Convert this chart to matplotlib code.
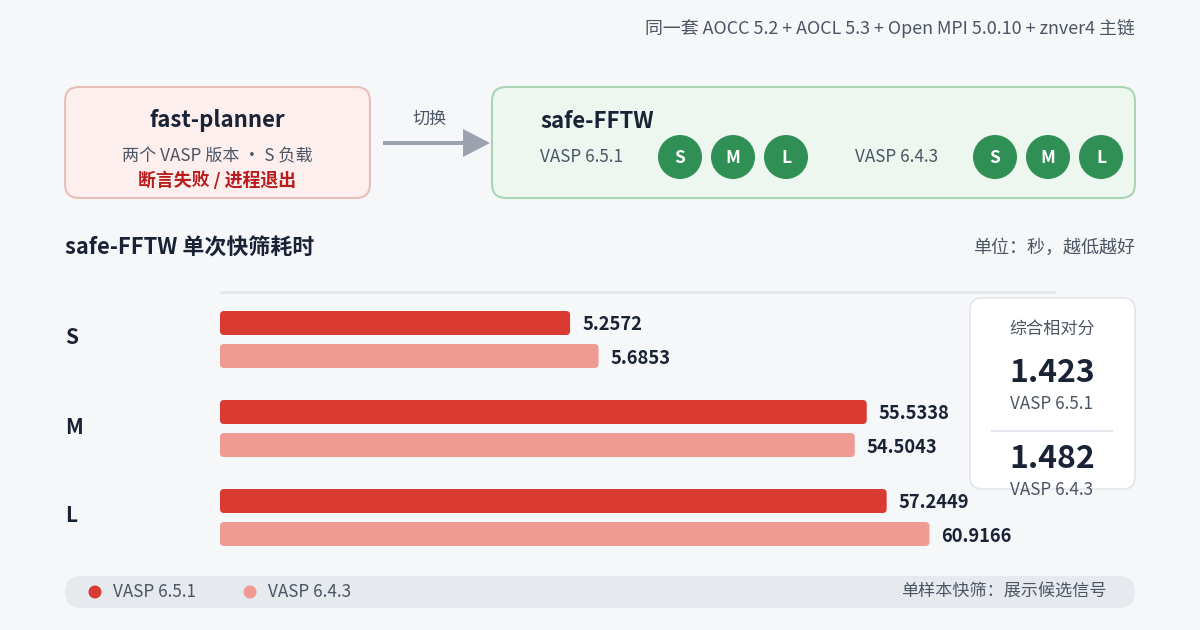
import numpy as np
import matplotlib
matplotlib.use("Agg")
import matplotlib.pyplot as plt
from matplotlib.patches import FancyBboxPatch, Circle, FancyArrow

plt.rcParams['font.family'] = ['Noto Sans CJK SC', 'DejaVu Sans']

# data
sizes = ["S", "M", "L"]
versions = ["VASP 6.5.1", "VASP 6.4.3"]
t_651 = [5.2572, 55.5338, 57.2449]
t_643 = [5.6853, 54.5043, 60.9166]
scores = [1.423, 1.482]
# the S row is drawn on its own (zoomed) scale, M and L share one
row_xmax = [12.54, 71.7, 71.7]

W, H = 1200, 630
BG = "#f6f7f9"
DARK = "#1a2236"
GRAY = "#4b5563"
RED = "#d93b32"
PINK = "#ef9a93"
GREEN = "#2f8f55"
FS = 12.3

fig = plt.figure(figsize=(12, 6.3), dpi=100, facecolor=BG)
bg = fig.add_axes([0, 0, 1, 1])
bg.set_xlim(0, W)
bg.set_ylim(H, 0)
bg.axis("off")
bg.set_facecolor(BG)


def rbox(x0, y0, x1, y1, r, fc, ec, lw=1.5, z=1):
    p = FancyBboxPatch((x0 + r, y0 + r), x1 - x0 - 2 * r, y1 - y0 - 2 * r,
                       boxstyle=f"round,pad={r}", fc=fc, ec=ec, lw=lw, zorder=z)
    bg.add_patch(p)


# header
bg.text(1135, 28, "同一套 AOCC 5.2 + AOCL 5.3 + Open MPI 5.0.10 + znver4 主链",
        ha="right", va="center", fontsize=12.9, color=GRAY)

# left box
rbox(65, 87, 370, 198, 14, "#fdefee", "#e8bfb8")
bg.text(217, 121, "fast-planner", ha="center", va="center", fontsize=16,
        fontweight="bold", color=DARK)
bg.text(217, 156, "两个 VASP 版本 · S 负载", ha="center", va="center",
        fontsize=FS, color=GRAY)
bg.text(217, 181, "断言失败 / 进程退出", ha="center", va="center",
        fontsize=12.9, fontweight="bold", color="#b91c1c")

# arrow
bg.text(430, 119, "切换", ha="center", va="center", fontsize=FS, color=GRAY)
bg.add_patch(FancyArrow(383, 143, 80, 0, width=4, head_width=28,
                        head_length=27, length_includes_head=False,
                        fc="#9ca3af", ec="none"))

# right box
rbox(492, 87, 1135, 198, 14, "#edf7ef", "#a9d5b5")
bg.text(540, 121, "safe-FFTW", ha="left", va="center", fontsize=16,
        fontweight="bold", color=DARK)
for vx, cx0, ver in [(540, 680, versions[0]), (855, 995, versions[1])]:
    bg.text(vx, 157, ver, ha="left", va="center", fontsize=FS, color=GRAY)
    for k, s in enumerate(sizes):
        cx = cx0 + 53 * k
        bg.add_patch(Circle((cx, 157), 22, fc=GREEN, ec="none", zorder=3))
        bg.text(cx, 158, s, ha="center", va="center", fontsize=12.5,
                fontweight="bold", color="white", zorder=4)

# section title
bg.text(65, 248, "safe-FFTW 单次快筛耗时", ha="left", va="center",
        fontsize=15.8, fontweight="bold", color=DARK)
bg.text(1135, 248, "单位：秒，越低越好", ha="right", va="center",
        fontsize=13, color=GRAY)
bg.plot([220, 1055], [292, 292], color="#e3e6ec", lw=2, solid_capstyle="butt")

# bars, one axes per size row
row_top = [311, 400, 489]
x_left, x_right = 220, 1055
ax_w = x_right - x_left
for i, s in enumerate(sizes):
    top = row_top[i]
    ax = fig.add_axes([x_left / W, 1 - (top + 57) / H, ax_w / W, 57 / H])
    ax.set_xlim(0, row_xmax[i])
    ax.set_ylim(1 + 0.3636, -0.3636)
    ax.axis("off")
    ax.patch.set_alpha(0)
    vals = [t_651[i], t_643[i]]
    bars = ax.barh([0, 1], vals, height=0.727, color=[RED, PINK])
    # swap the plain rectangles for rounded ones of the same extent
    r = 4 * row_xmax[i] / ax_w
    asp = ax_w / (33 * row_xmax[i])
    for b in bars:
        x0, y0, bw, bh = b.get_x(), b.get_y(), b.get_width(), b.get_height()
        ax.add_patch(FancyBboxPatch((x0, y0), bw, bh,
                                    boxstyle=f"round,pad=0,rounding_size={r}",
                                    mutation_aspect=asp, fc=b.get_facecolor(),
                                    ec="none"))
        b.set_visible(False)
    for j, v in enumerate(vals):
        ax.annotate(f"{v:.4f}", (v, j), xytext=(12, -2),
                    textcoords="offset pixels", ha="left", va="center",
                    fontsize=13.2, fontweight="bold", color=DARK,
                    annotation_clip=False)
    bg.text(65, top + 27, s, ha="left", va="center", fontsize=15,
            fontweight="bold", color=DARK)

# score card
rbox(970, 298, 1135, 489, 12, "white", "#e2e5ea", lw=1.2, z=2)
bg.text(1052, 329, "综合相对分", ha="center", va="center", fontsize=FS,
        color=GRAY, zorder=3)
for k, (sc, ver) in enumerate(zip(scores, versions)):
    y0 = 373 + 86 * k
    bg.text(1052, y0, f"{sc:.3f}", ha="center", va="center", fontsize=23,
            fontweight="bold", color=DARK, zorder=3)
    bg.text(1052, y0 + 31, ver, ha="center", va="center", fontsize=FS,
            color=GRAY, zorder=3)
bg.plot([992, 1112], [431, 431], color="#e3e6ec", lw=1.5, zorder=3)

# legend bar
rbox(65, 576, 1135, 608, 16, "#e6e9ee", "none", lw=0)
for k, (ver, col) in enumerate(zip(versions, [RED, PINK])):
    lx = 95 + 155 * k
    bg.add_patch(Circle((lx, 592), 6.5, fc=col, ec="none", zorder=3))
    bg.text(lx + 18, 592, ver, ha="left", va="center", fontsize=FS,
            color=GRAY, zorder=3)
bg.text(1107, 592, "单样本快筛：展示候选信号", ha="right", va="center",
        fontsize=FS, color=GRAY, zorder=3)

fig.savefig("out.png", dpi=100, facecolor=BG)
